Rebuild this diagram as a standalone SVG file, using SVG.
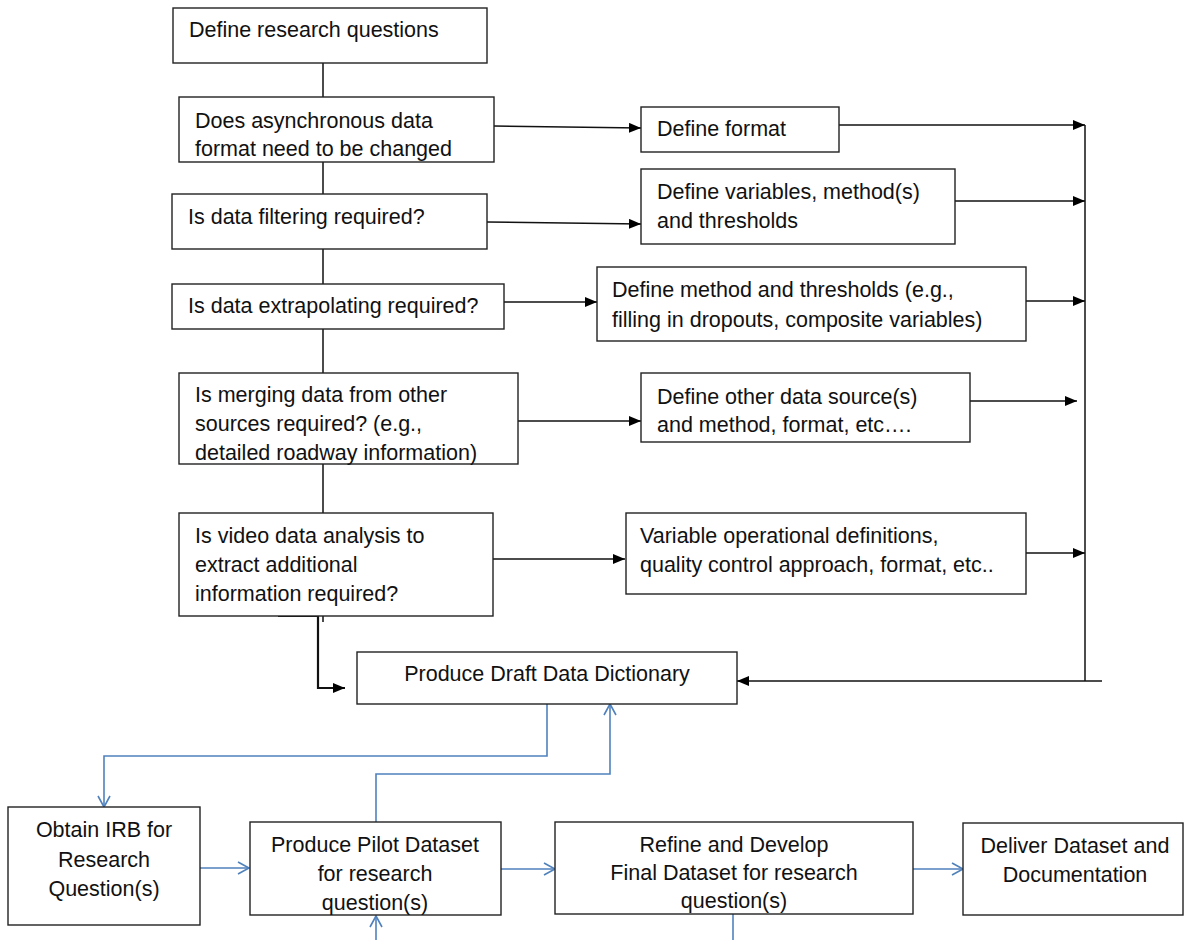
<svg xmlns="http://www.w3.org/2000/svg" width="1185" height="940" viewBox="0 0 1185 940">
<defs>
<style>
.box{fill:#fff;stroke:#222;stroke-width:1.4}
.t{font-family:"Liberation Sans",Arial,sans-serif;font-size:21.5px;fill:#111}
.c{text-anchor:middle}
.k{fill:none;stroke:#111;stroke-width:1.5}
.kb{fill:none;stroke:#111;stroke-width:2.2}
.b{fill:none;stroke:#4F81BD;stroke-width:1.6}
</style>
<marker id="ah" markerUnits="userSpaceOnUse" markerWidth="13" markerHeight="11" refX="12" refY="5" orient="auto">
<path d="M0,0 L12,5 L0,10 z" fill="#000"/>
</marker>
<marker id="bh" markerUnits="userSpaceOnUse" markerWidth="14" markerHeight="14" refX="12" refY="7" orient="auto">
<path d="M1,1 L12,7 L1,13" fill="none" stroke="#4F81BD" stroke-width="1.6"/>
</marker>
</defs>
<rect width="1185" height="940" fill="#fff"/>

<g id="connectors">
<path class="k" d="M323,63 V97 M323,162 V194 M323,249 V284 M323,329 V373 M323,464 V513 M323,616 V622"/>
<path class="kb" d="M278,616 H318 V688 H345" marker-end="url(#ah)"/>
<line class="k" x1="494" y1="126" x2="641" y2="128" marker-end="url(#ah)"/>
<line class="k" x1="487" y1="222" x2="641" y2="224" marker-end="url(#ah)"/>
<line class="k" x1="504" y1="302" x2="597" y2="302" marker-end="url(#ah)"/>
<line class="k" x1="518" y1="421" x2="641" y2="421" marker-end="url(#ah)"/>
<line class="k" x1="493" y1="559" x2="625" y2="559" marker-end="url(#ah)"/>
<line class="k" x1="839" y1="125" x2="1085" y2="125" marker-end="url(#ah)"/>
<line class="k" x1="955" y1="201" x2="1085" y2="201" marker-end="url(#ah)"/>
<line class="k" x1="1026" y1="301" x2="1085" y2="301" marker-end="url(#ah)"/>
<line class="k" x1="970" y1="401" x2="1077" y2="401" marker-end="url(#ah)"/>
<line class="k" x1="1026" y1="553" x2="1085" y2="553" marker-end="url(#ah)"/>
<line class="k" x1="1085" y1="125" x2="1085" y2="681"/>
<line class="k" x1="1102" y1="681" x2="737" y2="681" marker-end="url(#ah)"/>
<path class="b" d="M547,704 V756 H104 V807" marker-end="url(#bh)"/>
<path class="b" d="M376,822 V774 H610 V704" marker-end="url(#bh)"/>
<line class="b" x1="200" y1="868" x2="249" y2="868" marker-end="url(#bh)"/>
<line class="b" x1="501" y1="869" x2="555" y2="869" marker-end="url(#bh)"/>
<line class="b" x1="913" y1="869" x2="963" y2="869" marker-end="url(#bh)"/>
<line class="b" x1="376" y1="940" x2="376" y2="916" marker-end="url(#bh)"/>
<line class="b" x1="733" y1="914" x2="733" y2="940"/>
</g>

<g id="n1"><rect class="box" x="173" y="8" width="314" height="55"/>
<text class="t" x="189" y="37">Define research questions</text></g>

<g id="n2"><rect class="box" x="179" y="97" width="315" height="65"/>
<text class="t" x="195" y="128">Does asynchronous data</text>
<text class="t" x="195" y="156">format need to be changed</text></g>

<g id="n3"><rect class="box" x="172" y="194" width="315" height="55"/>
<text class="t" x="188" y="224">Is data filtering required?</text></g>

<g id="n4"><rect class="box" x="172" y="284" width="332" height="45"/>
<text class="t" x="188" y="313">Is data extrapolating required?</text></g>

<g id="n5"><rect class="box" x="179" y="373" width="339" height="91"/>
<text class="t" x="195" y="402">Is merging data from other</text>
<text class="t" x="195" y="431">sources required? (e.g.,</text>
<text class="t" x="195" y="460">detailed roadway information)</text></g>

<g id="n6"><rect class="box" x="179" y="513" width="314" height="103"/>
<text class="t" x="195" y="543">Is video data analysis to</text>
<text class="t" x="195" y="572">extract additional</text>
<text class="t" x="195" y="601">information required?</text></g>

<g id="n7"><rect class="box" x="641" y="107" width="198" height="45"/>
<text class="t" x="657" y="136">Define format</text></g>

<g id="n8"><rect class="box" x="641" y="169" width="314" height="75"/>
<text class="t" x="657" y="199">Define variables, method(s)</text>
<text class="t" x="657" y="228">and thresholds</text></g>

<g id="n9"><rect class="box" x="597" y="267" width="429" height="74"/>
<text class="t" x="612" y="297">Define method and thresholds (e.g.,</text>
<text class="t" x="612" y="327">filling in dropouts, composite variables)</text></g>

<g id="n10"><rect class="box" x="641" y="373" width="329" height="69"/>
<text class="t" x="657" y="404">Define other data source(s)</text>
<text class="t" x="657" y="432">and method, format, etc….</text></g>

<g id="n11"><rect class="box" x="626" y="513" width="400" height="81"/>
<text class="t" x="640" y="543">Variable operational definitions,</text>
<text class="t" x="640" y="572">quality control approach, format, etc..</text></g>

<g id="n12"><rect class="box" x="357" y="652" width="380" height="52"/>
<text class="t c" x="547" y="681">Produce Draft Data Dictionary</text></g>

<g id="n13"><rect class="box" x="8" y="807" width="192" height="118"/>
<text class="t c" x="104" y="837">Obtain IRB for</text>
<text class="t c" x="104" y="867">Research</text>
<text class="t c" x="104" y="896">Question(s)</text></g>

<g id="n14"><rect class="box" x="250" y="822" width="251" height="93"/>
<text class="t c" x="375" y="852">Produce Pilot Dataset</text>
<text class="t c" x="375" y="881">for research</text>
<text class="t c" x="375" y="910">question(s)</text></g>

<g id="n15"><rect class="box" x="555" y="822" width="358" height="92"/>
<text class="t c" x="734" y="852">Refine and Develop</text>
<text class="t c" x="734" y="880">Final Dataset for research</text>
<text class="t c" x="734" y="908">question(s)</text></g>

<g id="n16"><rect class="box" x="963" y="823" width="220" height="92"/>
<text class="t c" x="1075" y="853">Deliver Dataset and</text>
<text class="t c" x="1075" y="882">Documentation</text></g>
</svg>
